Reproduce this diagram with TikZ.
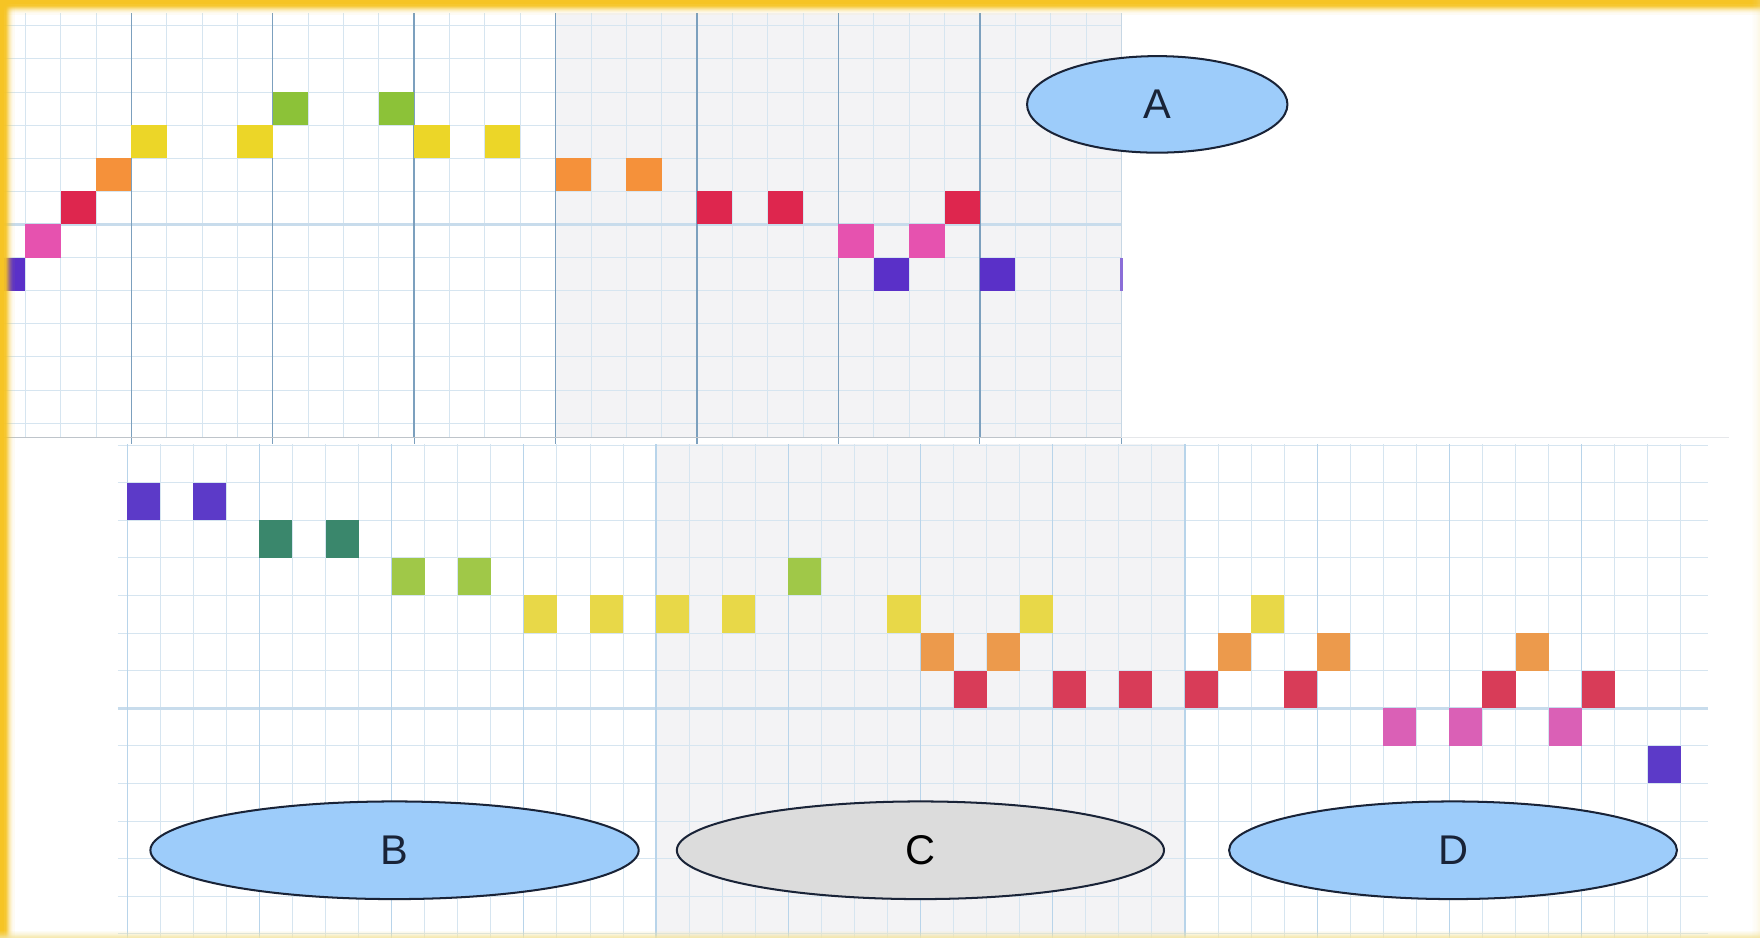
\documentclass[tikz,border=0pt]{standalone}
\usepackage{fontspec}
\newfontfamily\labfont{Liberation Sans}
\usetikzlibrary{shapes.geometric}
\definecolor{panelgray}{RGB}{243,243,245}
\definecolor{minorc}{RGB}{214,229,240}
\definecolor{majorc}{RGB}{124,160,190}
\definecolor{bmajorc}{RGB}{184,212,234}
\definecolor{thickh}{RGB}{200,220,236}
\definecolor{edgegray}{RGB}{190,196,202}
\definecolor{tpurple}{RGB}{90,48,200}
\definecolor{tpink}{RGB}{230,82,175}
\definecolor{tred}{RGB}{222,38,78}
\definecolor{torange}{RGB}{245,145,58}
\definecolor{tyellow}{RGB}{236,214,40}
\definecolor{tgreen}{RGB}{140,194,56}
\definecolor{bpurple}{RGB}{92,58,200}
\definecolor{bteal}{RGB}{58,135,108}
\definecolor{bgreen}{RGB}{160,200,72}
\definecolor{byellow}{RGB}{232,216,72}
\definecolor{borange}{RGB}{236,154,76}
\definecolor{bred}{RGB}{216,60,88}
\definecolor{bpink}{RGB}{218,96,182}
\definecolor{ellblue}{RGB}{157,204,250}
\definecolor{ellgray}{RGB}{220,220,220}
\definecolor{ellline}{RGB}{25,35,55}
\definecolor{gold}{RGB}{246,196,36}
\definecolor{palegold}{RGB}{244,228,160}
\newcommand\tsq[3]{\fill[#2] ({-9+31.5*#1},#3) rectangle ++(31.5,29.5);}
\newcommand\bsq[3]{\fill[#2] ({113.3+29.45*#1},{430+33.5*#3}) rectangle ++(29.45,33.5);}
\begin{document}
\begin{tikzpicture}[x=1pt,y=-1pt,
  lab/.style={ellipse, draw=ellline, line width=1.8pt, inner sep=0pt,
    font=\labfont\fontsize{37}{44}\selectfont, text=ellline}]
\useasboundingbox (0,0) rectangle (1568,836);
\fill[white] (0,0) rectangle (1568,836);
% ---------- top panel ----------
\fill[white] (10,12) rectangle (495,390);
\fill[panelgray] (495,12) rectangle (999,390);
\begin{scope}
\clip (0,12) rectangle (999,390);
\foreach \k in {0,...,32} {\draw[minorc, line width=0.8pt] ({-9+31.5*\k},12) -- ({-9+31.5*\k},390);}
\foreach \j in {-7,...,7} {\draw[minorc, line width=0.8pt] (0,{200+29.5*\j}) -- (999,{200+29.5*\j});}
\draw[thickh, line width=2.5pt] (0,200) -- (999,200);
\foreach \j in {0,...,8} {\draw[majorc, line width=1.3pt] ({-9+126*\j},12) -- ({-9+126*\j},390);}
\tsq{0}{tpurple}{229.5}
\tsq{1}{tpink}{200}
\tsq{2}{tred}{170.5}
\tsq{3}{torange}{141}
\tsq{4}{tyellow}{111.5}
\tsq{7}{tyellow}{111.5}
\tsq{8}{tgreen}{82}
\tsq{11}{tgreen}{82}
\tsq{12}{tyellow}{111.5}
\tsq{14}{tyellow}{111.5}
\tsq{16}{torange}{141}
\tsq{18}{torange}{141}
\tsq{20}{tred}{170.5}
\tsq{22}{tred}{170.5}
\tsq{24}{tpink}{200}
\tsq{25}{tpurple}{229.5}
\tsq{26}{tpink}{200}
\tsq{27}{tred}{170.5}
\tsq{28}{tpurple}{229.5}
\end{scope}
\fill[tpurple!70!white] (998,230) rectangle (1000.5,259);
\draw[edgegray, line width=1.2pt] (0,390) -- (999,390);
\draw[edgegray!40, line width=0.8pt] (999,390) -- (1540,390);
\foreach \j in {1,...,8} {\draw[majorc, line width=1pt] ({-9+126*\j},390) -- ({-9+126*\j},396);}
% ---------- bottom panel ----------
\fill[white] (105,396) rectangle (584.5,836);
\fill[panelgray] (584.5,396) rectangle (1055.7,836);
\fill[white] (1055.7,396) rectangle (1522,836);
\begin{scope}
\clip (105,396) rectangle (1522,836);
\foreach \m in {0,...,48} {\draw[minorc, line width=0.8pt] ({113.3+29.45*\m},396) -- ({113.3+29.45*\m},836);}
\foreach \r in {-1,...,12} {\draw[minorc, line width=0.8pt] (105,{430+33.5*\r}) -- (1522,{430+33.5*\r});}
\draw[thickh, line width=2.5pt] (105,631) -- (1522,631);
\foreach \j in {0,...,12} {\draw[bmajorc, line width=1.1pt] ({113.3+117.8*\j},396) -- ({113.3+117.8*\j},836);}
\bsq{0}{bpurple}{0}
\bsq{2}{bpurple}{0}
\bsq{4}{bteal}{1}
\bsq{6}{bteal}{1}
\bsq{8}{bgreen}{2}
\bsq{10}{bgreen}{2}
\bsq{12}{byellow}{3}
\bsq{14}{byellow}{3}
\bsq{16}{byellow}{3}
\bsq{18}{byellow}{3}
\bsq{20}{bgreen}{2}
\bsq{23}{byellow}{3}
\bsq{24}{borange}{4}
\bsq{25}{bred}{5}
\bsq{26}{borange}{4}
\bsq{27}{byellow}{3}
\bsq{28}{bred}{5}
\bsq{30}{bred}{5}
\bsq{32}{bred}{5}
\bsq{33}{borange}{4}
\bsq{34}{byellow}{3}
\bsq{35}{bred}{5}
\bsq{36}{borange}{4}
\bsq{38}{bpink}{6}
\bsq{40}{bpink}{6}
\bsq{41}{bred}{5}
\bsq{42}{borange}{4}
\bsq{43}{bpink}{6}
\bsq{44}{bred}{5}
\bsq{46}{bpurple}{7}
\end{scope}
% ---------- ellipses ----------
\node[lab, fill=ellblue, minimum width=232pt, minimum height=86pt] (A) at (1031,93) {A};
\node[lab, fill=ellblue, minimum width=435pt, minimum height=87pt] (B) at (351.5,757.5) {B};
\node[lab, fill=ellgray, minimum width=434pt, minimum height=87pt, text=black] (C) at (820,757.5) {C};
\node[lab, fill=ellblue, minimum width=399pt, minimum height=87pt] (D) at (1294.5,757.5) {D};
% ---------- yellow frame ----------
\foreach \i/\o in {0/1,1/1,2/1,3/1,4/0.95,5/0.85,6/0.7,7/0.55,8/0.4,9/0.28,10/0.18,11/0.1,12/0.05} {
  \fill[gold, opacity=\o] (0,\i) rectangle (1568,\i+1);
  \fill[gold, opacity=\o] (\i,0) rectangle (\i+1,836);
}
\foreach \i/\o in {0/0.8,1/0.7,2/0.55,3/0.4,4/0.3,5/0.2,6/0.1} {
  \fill[palegold, opacity=\o] (0,836-\i) rectangle (1568,835-\i);
  \fill[palegold, opacity=\o*0.3] (1568-\i,0) rectangle (1567-\i,836);
}
\end{tikzpicture}
\end{document}
